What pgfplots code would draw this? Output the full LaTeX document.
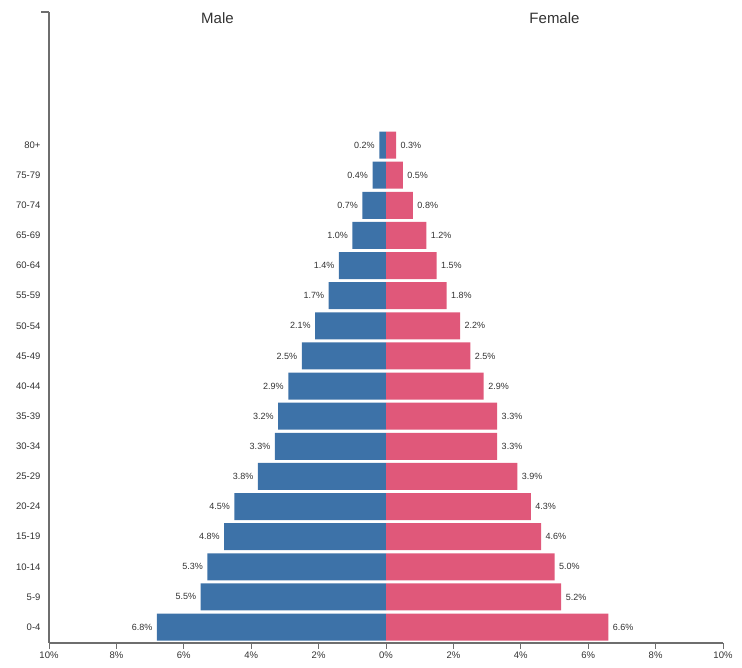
\documentclass[border=0pt]{standalone}
\usepackage{fontspec}
\setmainfont{Liberation Sans}
\usepackage{pgfplots}
\usepackage{pgfplotstable}
\pgfplotsset{compat=1.18}
\definecolor{maleblue}{RGB}{61,114,168}
\definecolor{femalepink}{RGB}{224,88,122}
\definecolor{axisgray}{RGB}{110,110,110}
\definecolor{labelgray}{RGB}{50,50,50}

% age group index, male share (negative), female share
\pgfplotstableread{
y  m     ml   f    
0  -6.8  6.8  6.6
1  -5.5  5.5  5.2
2  -5.3  5.3  5.0
3  -4.8  4.8  4.6
4  -4.5  4.5  4.3
5  -3.8  3.8  3.9
6  -3.3  3.3  3.3
7  -3.2  3.2  3.3
8  -2.9  2.9  2.9
9  -2.5  2.5  2.5
10 -2.1  2.1  2.2
11 -1.7  1.7  1.8
12 -1.4  1.4  1.5
13 -1.0  1.0  1.2
14 -0.7  0.7  0.8
15 -0.4  0.4  0.5
16 -0.2  0.2  0.3
}\pyramid

\begin{document}
\begin{tikzpicture}
\path[use as bounding box] (0,0) rectangle (742pt,668pt);
\begin{axis}[
  at={(49pt,25pt)}, anchor=south west,
  scale only axis,
  width=674pt, height=631pt,
  xmin=-10, xmax=10,
  ymin=-0.53, ymax=20.42,
  axis x line=bottom, axis y line=left,
  axis line style={-, axisgray, line width=1.2pt},
  xtick={-10,-8,...,10},
  xticklabels={10\%,8\%,6\%,4\%,2\%,0\%,2\%,4\%,6\%,8\%,10\%},
  ytick={0,...,16},
  yticklabels={0-4,5-9,10-14,15-19,20-24,25-29,30-34,35-39,40-44,45-49,50-54,55-59,60-64,65-69,70-74,75-79,80+},
  tick align=outside,
  major tick length=6pt,
  x tick style={axisgray, line width=0.8pt},
  y tick style={draw=none},
  ticklabel style={font=\fontsize{9.5}{11}\selectfont, text=labelgray},
  xticklabel style={yshift=1pt},
  yticklabel style={xshift=1pt},
  /pgf/number format/assume math mode=true,
  xbar, bar width=27pt, bar shift=0pt,
  clip=false,
]
\addplot[draw=none, fill=maleblue,
  point meta=explicit,
  nodes near coords={\pgfmathprintnumber[fixed,fixed zerofill,precision=1]{\pgfplotspointmeta}\%},
  every node near coord/.append style={anchor=east, xshift=-1pt, font=\fontsize{9}{10}\selectfont, text=labelgray}]
  table[x=m, y=y, meta=ml] {\pyramid};
\addplot[draw=none, fill=femalepink,
  point meta=explicit,
  nodes near coords={\pgfmathprintnumber[fixed,fixed zerofill,precision=1]{\pgfplotspointmeta}\%},
  every node near coord/.append style={anchor=west, xshift=1pt, font=\fontsize{9}{10}\selectfont, text=labelgray}]
  table[x=f, y=y, meta=f] {\pyramid};
\node[font=\fontsize{15}{17}\selectfont, text=labelgray] at (axis cs:-5,20.2) {Male};
\node[font=\fontsize{15}{17}\selectfont, text=labelgray] at (axis cs:5,20.2) {Female};
\draw[axisgray, line width=1.2pt] (rel axis cs:0,1) -- ([xshift=-8pt]rel axis cs:0,1);
\end{axis}
\end{tikzpicture}
\end{document}
